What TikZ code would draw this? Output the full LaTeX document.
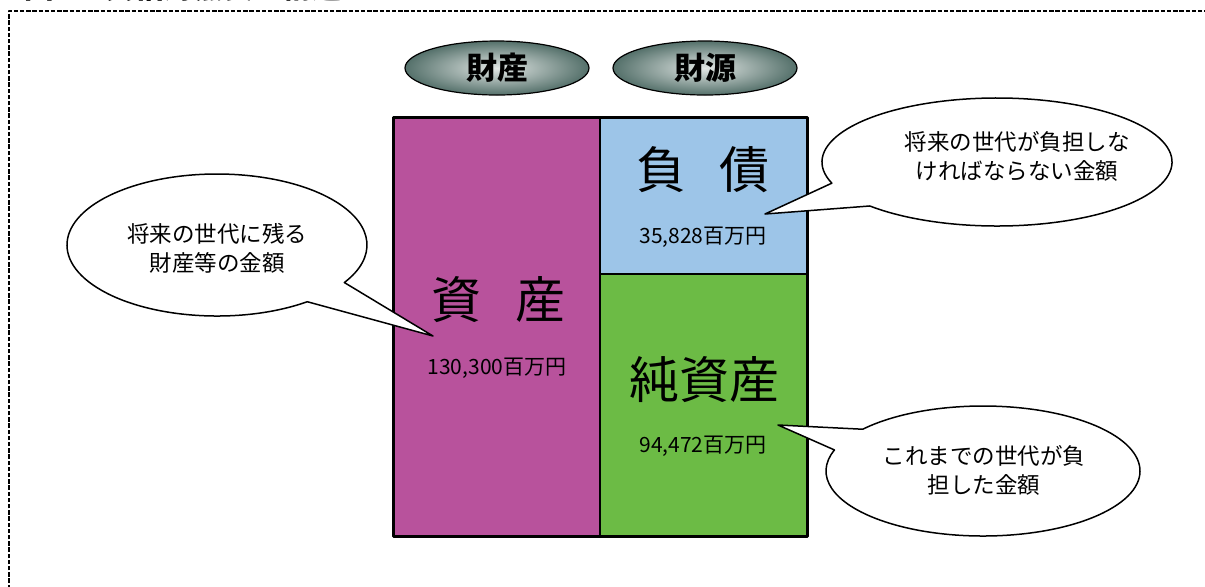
\documentclass[tikz,border=0pt]{standalone}
\usepackage{fontspec}
\setmainfont{Noto Sans CJK JP}
\usetikzlibrary{shapes.geometric}
\definecolor{shisancol}{RGB}{184,82,156}
\definecolor{fusaicol}{RGB}{157,197,232}
\definecolor{junshisancol}{RGB}{108,187,69}
\definecolor{hdrout}{RGB}{84,112,106}
\definecolor{hdrin}{RGB}{226,231,229}
\begin{document}
\begin{tikzpicture}[x=0.5pt,y=-0.5pt, line join=round,
	hdrshade/.style={draw=black, line width=0.6pt, inner color=hdrin, outer color=hdrout},
	hdr/.style={inner sep=0pt, font=\fontsize{15.5}{16}\selectfont\bfseries},
	big/.style={font=\fontsize{25}{26}\selectfont},
	amount/.style={font=\fontsize{10.5}{12}\selectfont},
	note/.style={align=center, font=\fontsize{11.25}{14.5}\selectfont},
	bubble/.style={draw=black, fill=white, line width=0.75pt}]
	\useasboundingbox (0,0) rectangle (1205,586);
	\def\xl{393} \def\xm{600} \def\xr{807}
	\def\yt{117} \def\ym{274} \def\yb{536}
	% frame + title (cut off at the top)
	\draw[line width=1pt, dash pattern=on 2.2pt off 0.9pt] (9,620)--(9,11)--(1230,11);
	\node[anchor=base west, inner sep=0pt, font=\fontsize{14.75}{15}\selectfont\bfseries] (title) at (24,-2) {図\hspace{26pt}貸借対照表の構造};
	% headers
	\shade[hdrshade] (497,68) ellipse[x radius=92, y radius=27];
	\shade[hdrshade] (705,68) ellipse[x radius=92, y radius=27];
	\node[hdr] (zaisan) at (497,68) {財産};
	\node[hdr] (zaigen) at (705,68) {財源};
	% balance sheet
	\fill[shisancol] (\xl,\yt) rectangle (\xm,\yb);
	\fill[fusaicol] (\xm,\yt) rectangle (\xr,\ym);
	\fill[junshisancol] (\xm,\ym) rectangle (\xr,\yb);
	\draw[line width=1pt] (\xm,\yt)--(\xm,\yb) (\xm,\ym)--(\xr,\ym);
	\draw[line width=1.5pt] (\xl,\yt) rectangle (\xr,\yb);
	\node[big] (shisan) at (498,300) {資\hspace{17pt}産};
	\node[amount] (shisanamt) at (497,368) {130,300百万円};
	\node[big] (fusai) at (703,170) {負\hspace{16.5pt}債};
	\node[amount] (fusaiamt) at (703,237) {35,828百万円};
	\node[big] (junshisan) at (704,380) {純資産};
	\node[amount] (junshisanamt) at (703,446) {94,472百万円};
	% callouts
	\coordinate (tipA) at (433,336);
	\coordinate (tipB) at (765,214);
	\coordinate (tipC) at (778,425);
	\draw[bubble] (217,245) ++(53:150 and 71) arc[start angle=53, end angle=391.9, x radius=150, y radius=71] -- (tipA) -- cycle;
	\draw[bubble] (997,162) ++(160.7:175 and 64) arc[start angle=160.7, end angle=496.6, x radius=175, y radius=64] -- (tipB) -- cycle;
	\draw[bubble] (983,471) ++(220:157 and 65) arc[start angle=220, end angle=558.9, x radius=157, y radius=65] -- (tipC) -- cycle;
	\node[note] (noteA) at (217,248) {将来の世代に残る\\財産等の金額};
	\node[note] (noteB) at (1017,156) {将来の世代が負担しな\\ければならない金額};
	\node[note] (noteC) at (984,470) {これまでの世代が負\\担した金額};
\end{tikzpicture}
\end{document}
